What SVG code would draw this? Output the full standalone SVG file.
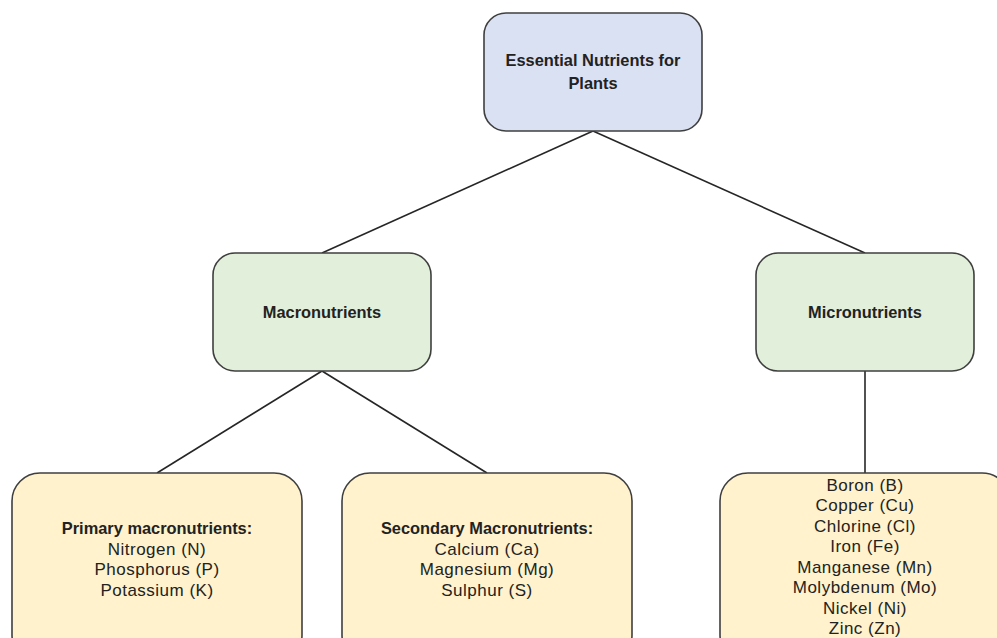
<svg xmlns="http://www.w3.org/2000/svg" width="997" height="638" viewBox="0 0 997 638">
<style>
.box{stroke:#3f3f3f;stroke-width:1.6}
.blue{fill:#dae1f3}
.green{fill:#e2efda}
.yellow{fill:#fff2cc}
text{font-family:"Liberation Sans",Arial,sans-serif;font-size:17px;letter-spacing:0.5px;fill:#222222;text-anchor:middle}
.b{font-weight:bold;font-size:16.4px;letter-spacing:0}
.conn line{stroke:#262626;stroke-width:1.6}
</style>
<rect width="997" height="638" fill="#ffffff"/>
<g class="conn" id="connectors">
<line x1="593" y1="131" x2="322" y2="253"/>
<line x1="593" y1="131" x2="865" y2="253"/>
<line x1="322" y1="371" x2="157" y2="473"/>
<line x1="322" y1="371" x2="487" y2="473"/>
<line x1="865" y1="371" x2="865" y2="473"/>
</g>
<g id="root">
<rect class="box blue" x="484" y="13" width="218" height="118" rx="22"/>
<text class="b" x="593" y="66">Essential Nutrients for</text>
<text class="b" x="593" y="89">Plants</text>
</g>
<g id="macro">
<rect class="box green" x="213" y="253" width="218" height="118" rx="22"/>
<text class="b" x="322" y="318">Macronutrients</text>
</g>
<g id="micro">
<rect class="box green" x="756" y="253" width="218" height="118" rx="22"/>
<text class="b" x="865" y="318">Micronutrients</text>
</g>
<g id="primary">
<rect class="box yellow" x="12" y="473" width="290" height="190" rx="28"/>
<text class="b" x="157" y="534">Primary macronutrients:</text>
<text x="157" y="555">Nitrogen (N)</text>
<text x="157" y="575">Phosphorus (P)</text>
<text x="157" y="596">Potassium (K)</text>
</g>
<g id="secondary">
<rect class="box yellow" x="342" y="473" width="290" height="190" rx="28"/>
<text class="b" x="487" y="534">Secondary Macronutrients:</text>
<text x="487" y="555">Calcium (Ca)</text>
<text x="487" y="575">Magnesium (Mg)</text>
<text x="487" y="596">Sulphur (S)</text>
</g>
<g id="micro-list">
<rect class="box yellow" x="720" y="473" width="290" height="190" rx="28"/>
<text x="865" y="491">Boron (B)</text>
<text x="865" y="511">Copper (Cu)</text>
<text x="865" y="532">Chlorine (Cl)</text>
<text x="865" y="552">Iron (Fe)</text>
<text x="865" y="573">Manganese (Mn)</text>
<text x="865" y="593">Molybdenum (Mo)</text>
<text x="865" y="614">Nickel (Ni)</text>
<text x="865" y="634">Zinc (Zn)</text>
</g>
</svg>
